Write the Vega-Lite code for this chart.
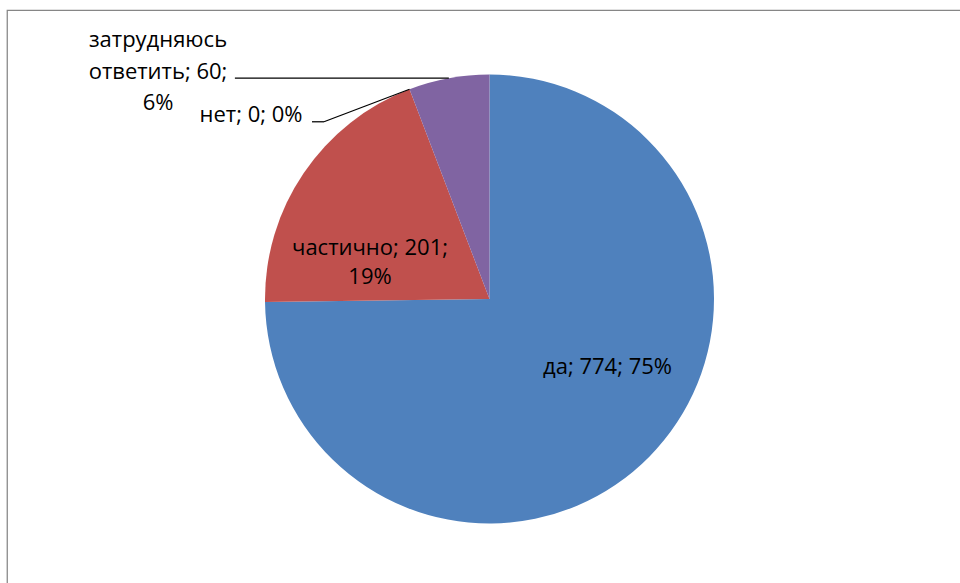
{
  "$schema": "https://vega.github.io/schema/vega-lite/v6.json",
  "width": 965,
  "height": 578,
  "autosize": {"type": "none"},
  "padding": {"left": 7, "top": 10, "right": 0, "bottom": 0},
  "background": "white",
  "config": {"view": {"stroke": "#868686", "strokeWidth": 1.25}, "font": "Open Sans"},
  "data": {
    "values": [
      {"category": "да", "value": 774, "idx": 1},
      {"category": "частично", "value": 201, "idx": 2},
      {"category": "нет", "value": 0, "idx": 3},
      {"category": "затрудняюсь ответить", "value": 60, "idx": 4}
    ]
  },
  "transform": [
    {"joinaggregate": [{"op": "sum", "field": "value", "as": "total"}]},
    {"window": [{"op": "sum", "field": "value", "as": "cum"}], "sort": [{"field": "idx", "order": "ascending"}], "frame": [null, 0]},
    {"calculate": "datum.cum - datum.value / 2", "as": "mid"},
    {"calculate": "2 * PI * datum.mid / datum.total", "as": "ang"},
    {"calculate": "round(100 * datum.value / datum.total)", "as": "pct"}
  ],
  "layer": [
    {
      "mark": {"type": "arc", "radius": 224.5},
      "encoding": {
        "theta": {"field": "value", "type": "quantitative", "stack": true},
        "order": {"field": "idx", "type": "quantitative"},
        "color": {
          "field": "category",
          "type": "nominal",
          "scale": {
            "domain": ["да", "частично", "нет", "затрудняюсь ответить"],
            "range": ["#4F81BD", "#C0504D", "#9BBB59", "#8064A2"]
          },
          "legend": null
        }
      }
    },
    {
      "transform": [
        {"filter": "datum.category === 'нет' || datum.category === 'затрудняюсь ответить'"},
        {"calculate": "sin(datum.ang)", "as": "ax"},
        {"calculate": "cos(datum.ang)", "as": "ay"},
        {"calculate": "datum.category === 'нет' ? datum.ax - 0.381 : datum.ax - 0.953", "as": "kx"},
        {"calculate": "datum.category === 'нет' ? datum.ay - 0.145 : datum.ay", "as": "ky"},
        {"calculate": "datum.category === 'нет' ? datum.kx - 0.0535 : datum.kx", "as": "ex"}
      ],
      "layer": [
        {
          "mark": {"type": "rule", "color": "#000000", "strokeWidth": 1.25},
          "encoding": {
            "x": {"field": "ax", "type": "quantitative", "scale": {"domain": [-2.14922, 2.14922], "nice": false, "zero": false}, "axis": null},
            "y": {"field": "ay", "type": "quantitative", "scale": {"domain": [-1.28731, 1.28731], "nice": false, "zero": false}, "axis": null},
            "x2": {"field": "kx"},
            "y2": {"field": "ky"}
          }
        },
        {
          "mark": {"type": "rule", "color": "#000000", "strokeWidth": 1.25},
          "encoding": {
            "x": {"field": "kx", "type": "quantitative"},
            "y": {"field": "ky", "type": "quantitative"},
            "x2": {"field": "ex"},
            "y2": {"field": "ky"}
          }
        }
      ]
    },
    {
      "transform": [
        {"filter": "datum.category === 'да'"},
        {"calculate": "datum.category + '; ' + datum.value + '; ' + datum.pct + '%'", "as": "label"}
      ],
      "mark": {"type": "text", "radius": 135, "dx": 21.9, "dy": -26.9, "fontSize": 22, "font": "Open Sans", "color": "#000000", "align": "center", "baseline": "middle"},
      "encoding": {
        "theta": {"field": "mid", "type": "quantitative", "stack": null},
        "text": {"field": "label"}
      }
    },
    {
      "transform": [
        {"filter": "datum.category === 'частично'"},
        {"calculate": "datum.category + '; ' + datum.value + ';|' + datum.pct + '%'", "as": "label"}
      ],
      "mark": {"type": "text", "radius": 135, "dx": -7.8, "dy": 25.2, "fontSize": 22, "lineHeight": 29, "lineBreak": "|", "font": "Open Sans", "color": "#000000", "align": "center", "baseline": "middle"},
      "encoding": {
        "theta": {"field": "mid", "type": "quantitative", "stack": null},
        "text": {"field": "label"}
      }
    },
    {
      "transform": [
        {"filter": "datum.category === 'нет'"},
        {"calculate": "datum.category + '; ' + datum.value + '; ' + datum.pct + '%'", "as": "label"}
      ],
      "mark": {"type": "text", "radius": 244.5, "dx": -151.4, "dy": 44.5, "fontSize": 22, "font": "Open Sans", "color": "#000000", "align": "center", "baseline": "middle"},
      "encoding": {
        "theta": {"field": "mid", "type": "quantitative", "stack": null},
        "text": {"field": "label"}
      }
    },
    {
      "transform": [
        {"filter": "datum.category === 'затрудняюсь ответить'"},
        {"calculate": "replace(datum.category, ' ', '|') + '; ' + datum.value + ';|' + datum.pct + '%'", "as": "label"}
      ],
      "mark": {"type": "text", "radius": 244.5, "dx": -287.2, "dy": -18.1, "fontSize": 22, "lineHeight": 31.5, "lineBreak": "|", "font": "Open Sans", "color": "#000000", "align": "center", "baseline": "middle"},
      "encoding": {
        "theta": {"field": "mid", "type": "quantitative", "stack": null},
        "text": {"field": "label"}
      }
    }
  ]
}
